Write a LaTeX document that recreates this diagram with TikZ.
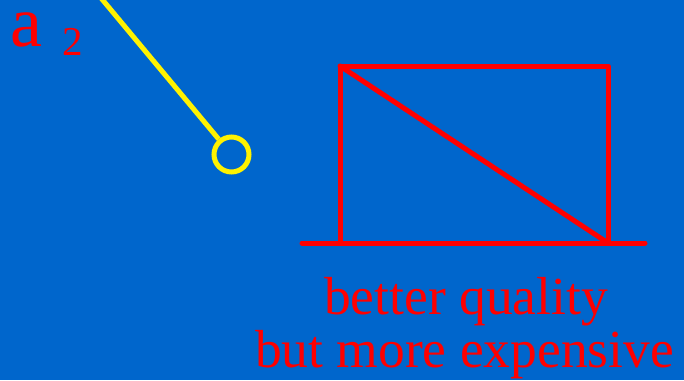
\documentclass[tikz,border=0pt]{standalone}
\usepackage{fontspec}
\setmainfont{Liberation Serif}
\begin{document}
\begin{tikzpicture}[x=1pt,y=-1pt,
  redline/.style={draw=red,line width=5pt,line cap=round,line join=round},
  yelline/.style={draw=yellow,line width=5pt},
  lbl/.style={text=red,inner sep=0pt,anchor=base}]
\definecolor{bg}{HTML}{0066CC}
\fill[bg] (0,0) rectangle (684,380);
\useasboundingbox (0,0) rectangle (684,380);
% label a_2
\node[lbl,anchor=base west] (a) at (10,46) {\fontsize{72}{72}\selectfont a};
\node[lbl,anchor=base west] (two) at (62,55) {\fontsize{41}{41}\selectfont 2};
% yellow probe
\coordinate (ytop) at (96,-8);
\node[circle,draw=yellow,line width=5pt,minimum size=35pt,inner sep=0pt] (ring) at (231.5,154.5) {};
\draw[yelline] (ytop) -- (ring);
% red box
\coordinate (tl) at (340,66);
\coordinate (tr) at (608,66);
\coordinate (br) at (608,243);
\coordinate (bl) at (340,243);
\coordinate (gl) at (302,243);
\coordinate (gr) at (645,243);
\draw[redline] (bl) -- (tl) -- (tr) -- (br);
\draw[redline] (tl) -- (br);
\draw[redline] (gl) -- (gr);
% captions
\node[lbl] (c1) at (466,314) {\fontsize{53.5}{53.5}\selectfont better quality};
\node[lbl] (c2) at (464.5,367) {\fontsize{53.5}{53.5}\selectfont but more expensive};
\end{tikzpicture}
\end{document}
